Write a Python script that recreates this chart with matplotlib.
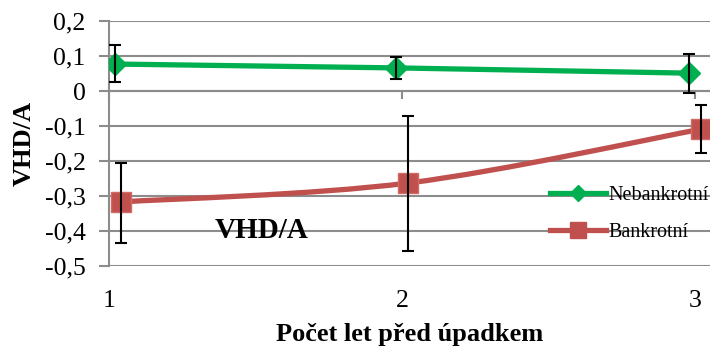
import numpy as np
import matplotlib
matplotlib.use('Agg')
import matplotlib.pyplot as plt
from matplotlib.path import Path
from matplotlib.patches import PathPatch
from matplotlib.lines import Line2D

# data (x positions are slightly jittered in the original)
years = [1, 2, 3]
x_neb = [1.02, 1.98, 2.98]
y_neb = [0.077, 0.066, 0.051]
err_neb_lo = [0.026, 0.034, -0.006]
err_neb_hi = [0.131, 0.097, 0.106]

x_bank = [1.04, 2.02, 3.02]
y_bank = [-0.317, -0.263, -0.109]
err_bank_lo = [-0.434, -0.457, -0.177]
err_bank_hi = [-0.206, -0.071, -0.040]

green = '#00B050'
red = '#C0504D'
grid_col = '#8C8C8C'

plt.rcParams['font.family'] = ['Liberation Serif', 'DejaVu Serif']


def smooth_path(xs, ys):
    # catmull-rom spline as cubic bezier segments
    pts = np.column_stack([xs, ys])
    p = np.vstack([pts[0], pts, pts[-1]])
    verts = [tuple(pts[0])]
    codes = [Path.MOVETO]
    for i in range(1, len(p) - 2):
        c1 = p[i] + (p[i + 1] - p[i - 1]) / 6.0
        c2 = p[i + 1] - (p[i + 2] - p[i]) / 6.0
        verts += [tuple(c1), tuple(c2), tuple(p[i + 1])]
        codes += [Path.CURVE4] * 3
    return Path(verts, codes)


fig = plt.figure(figsize=(7.1, 3.49), dpi=100)
ax = fig.add_axes([109 / 710, 83 / 349, 601 / 710, 245 / 349])

ax.set_xlim(1, 3.05)
ax.set_ylim(-0.5, 0.2)

# grid
yt = np.arange(-0.5, 0.21, 0.1)
ax.set_yticks(yt)
ax.yaxis.grid(True, color=grid_col, lw=1.5)
ax.set_axisbelow(True)
ax.set_yticklabels(['0' if abs(v) < 1e-9 else ('%.1f' % v).replace('.', ',') for v in yt],
                   fontsize=18.5)
ax.tick_params(axis='y', direction='out', length=7, width=1.5, color=grid_col, pad=10)

for s in ['top', 'right']:
    ax.spines[s].set_visible(False)
ax.spines['left'].set_color(grid_col)
ax.spines['left'].set_linewidth(1.5)
ax.spines['bottom'].set_position(('data', 0))
ax.spines['bottom'].set_color(grid_col)
ax.spines['bottom'].set_linewidth(1.5)
ax.set_xticks(years)
ax.tick_params(axis='x', direction='out', length=6, width=1.5, color=grid_col, labelbottom=False)

sec = ax.secondary_xaxis(0)
sec.set_xticks(years)
sec.set_xticklabels([str(y) for y in years], fontsize=18.5)
sec.tick_params(length=0, pad=17)
sec.spines['bottom'].set_visible(False)
sec.set_xlabel('Počet let před úpadkem', fontsize=19, fontweight='bold', labelpad=8)

ax.set_ylabel('VHD/A', fontsize=19, fontweight='bold', labelpad=6)

# nebankrotni
ax.plot(x_neb, y_neb, color=green, lw=3.8, solid_capstyle='round', zorder=3)
ax.plot(x_neb, y_neb, ls='none', marker='D', ms=11, color=green, zorder=4)
ax.errorbar(x_neb, y_neb,
            yerr=[np.array(y_neb) - np.array(err_neb_lo), np.array(err_neb_hi) - np.array(y_neb)],
            fmt='none', ecolor='black', elinewidth=1.5, capsize=4.5, capthick=1.5, zorder=5)

# bankrotni (smoothed line)
ax.add_patch(PathPatch(smooth_path(x_bank, y_bank), fc='none', ec=red, lw=3.8,
                       capstyle='round', zorder=3))
ax.plot(x_bank, y_bank, ls='none', marker='s', ms=14, color=red, mec='#D26A66', zorder=4)
ax.errorbar(x_bank, y_bank,
            yerr=[np.array(y_bank) - np.array(err_bank_lo), np.array(err_bank_hi) - np.array(y_bank)],
            fmt='none', ecolor='black', elinewidth=1.5, capsize=4.5, capthick=1.5, zorder=5)

handles = [Line2D([], [], color=green, lw=3.8, marker='D', ms=8),
           Line2D([], [], color=red, lw=3.8, marker='s', ms=11)]
ax.legend(handles, ['Nebankrotní', 'Bankrotní'], loc='center left',
          bbox_to_anchor=((542 - 109) / 601, (266 - 214) / 245), frameon=False,
          fontsize=14.5, handlelength=2.8, handletextpad=0.1, labelspacing=0.85,
          borderaxespad=0)

ax.text(1.52, -0.40, 'VHD/A', fontsize=21, fontweight='bold', ha='center', va='center')

fig.savefig('out.png', dpi=100)
